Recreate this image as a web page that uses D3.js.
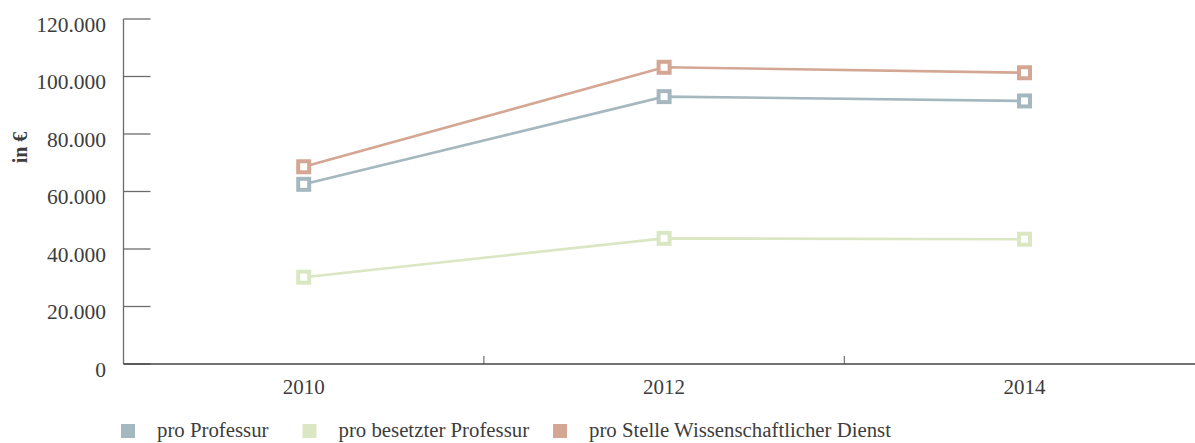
<!DOCTYPE html>
<html>
<head>
<meta charset="utf-8">
<script src="https://cdn.jsdelivr.net/npm/d3@7"></script>
<style>
  html, body { margin: 0; padding: 0; background: #fff; }
  svg { display: block; }
</style>
</head>
<body>
<svg id="chart" width="1195" height="443"></svg>
<script>
// Jahre und Werte je Reihe (in €)
const years = ["2010", "2012", "2014"];
const proProfessur = [62500, 93000, 91500];
const proBesetzterProfessur = [30200, 43700, 43400];
const proStelleWissDienst = [68600, 103200, 101300];
const seriesNames = ["pro Professur", "pro besetzter Professur", "pro Stelle Wissenschaftlicher Dienst"];
const seriesColors = ["#a5b8bf", "#dbe6c3", "#d4a694"];
const yTicks = [0, 20000, 40000, 60000, 80000, 100000, 120000];

const series = [proProfessur, proBesetzterProfessur, proStelleWissDienst].map((vals, i) => ({
  name: seriesNames[i],
  color: seriesColors[i],
  values: vals.map((v, j) => ({ year: years[j], value: v }))
}));

const FONT = "Liberation Serif";
const TEXT = "#3d3d3d";

const svg = d3.select("#chart").attr("font-family", FONT);
const plotLeft = 123.5, bandW = 360.4, plotTop = 19, plotBottom = 364;

const x = d3.scaleBand().domain(years).range([plotLeft, plotLeft + bandW * years.length]).paddingInner(0).paddingOuter(0);
const y = d3.scaleLinear().domain([0, 120000]).range([plotBottom, plotTop]);

const fmt = v => v === 0 ? "0" : d3.format(",")(v).replace(/,/g, ".");

// Y-Achse: Linie, kurze Striche nach rechts, Beschriftung links
const yAxis = svg.append("g");
yAxis.append("line")
  .attr("x1", plotLeft).attr("x2", plotLeft).attr("y1", plotTop).attr("y2", plotBottom)
  .attr("stroke", "#6b6b6b").attr("stroke-width", 1.3);
yAxis.selectAll("line.tick").data(yTicks).join("line")
  .attr("class", "tick")
  .attr("x1", plotLeft).attr("x2", plotLeft + 27)
  .attr("y1", d => y(d)).attr("y2", d => y(d))
  .attr("stroke", "#6b6b6b").attr("stroke-width", 1.3);
yAxis.selectAll("text").data(yTicks).join("text")
  .attr("x", 106).attr("y", d => y(d) + 12.5)
  .attr("text-anchor", "end")
  .attr("font-family", FONT)
  .attr("font-size", 21.5).attr("fill", TEXT)
  .text(fmt);

svg.append("text")
  .attr("transform", `translate(27,147.5) rotate(-90)`)
  .attr("text-anchor", "middle")
  .attr("font-family", FONT)
  .attr("font-size", 20).attr("font-weight", "bold").attr("fill", TEXT)
  .text("in €");

// X-Achse mit Strichen an den Kategoriegrenzen
const xAxis = svg.append("g");
xAxis.append("line")
  .attr("x1", plotLeft).attr("x2", 1195).attr("y1", plotBottom).attr("y2", plotBottom)
  .attr("stroke", "#444").attr("stroke-width", 1.5);
const boundaries = years.slice(1).map(d => x(d));
xAxis.selectAll("line.tick").data(boundaries).join("line")
  .attr("class", "tick")
  .attr("x1", d => d).attr("x2", d => d)
  .attr("y1", plotBottom).attr("y2", plotBottom - 8)
  .attr("stroke", "#555").attr("stroke-width", 1);
xAxis.selectAll("text").data(years).join("text")
  .attr("x", d => x(d) + x.bandwidth() / 2)
  .attr("y", 394)
  .attr("text-anchor", "middle")
  .attr("font-family", FONT)
  .attr("font-size", 21).attr("fill", TEXT)
  .text(d => d);

// Linien
const line = d3.line()
  .x(d => x(d.year) + x.bandwidth() / 2)
  .y(d => y(d.value));

const g = svg.append("g");
series.forEach(s => {
  g.append("path")
    .datum(s.values)
    .attr("d", line)
    .attr("fill", "none")
    .attr("stroke", s.color)
    .attr("stroke-width", 2.6);
});
// Marker (hohle Quadrate)
series.forEach(s => {
  g.selectAll(null).data(s.values).join("rect")
    .attr("x", d => x(d.year) + x.bandwidth() / 2 - 5.5)
    .attr("y", d => y(d.value) - 5.5)
    .attr("width", 11).attr("height", 11)
    .attr("fill", "#fff")
    .attr("stroke", s.color)
    .attr("stroke-width", 4);
});

// Legende
const legendX = [121, 302.5, 553];
const legend = svg.append("g");
series.forEach((s, i) => {
  legend.append("rect")
    .attr("x", legendX[i]).attr("y", 424)
    .attr("width", 14).attr("height", 14)
    .attr("fill", s.color);
  legend.append("text")
    .attr("x", legendX[i] + 36).attr("y", 437)
    .attr("font-family", FONT)
    .attr("font-size", 20.8).attr("fill", TEXT)
    .text(s.name);
});
</script>
</body>
</html>
